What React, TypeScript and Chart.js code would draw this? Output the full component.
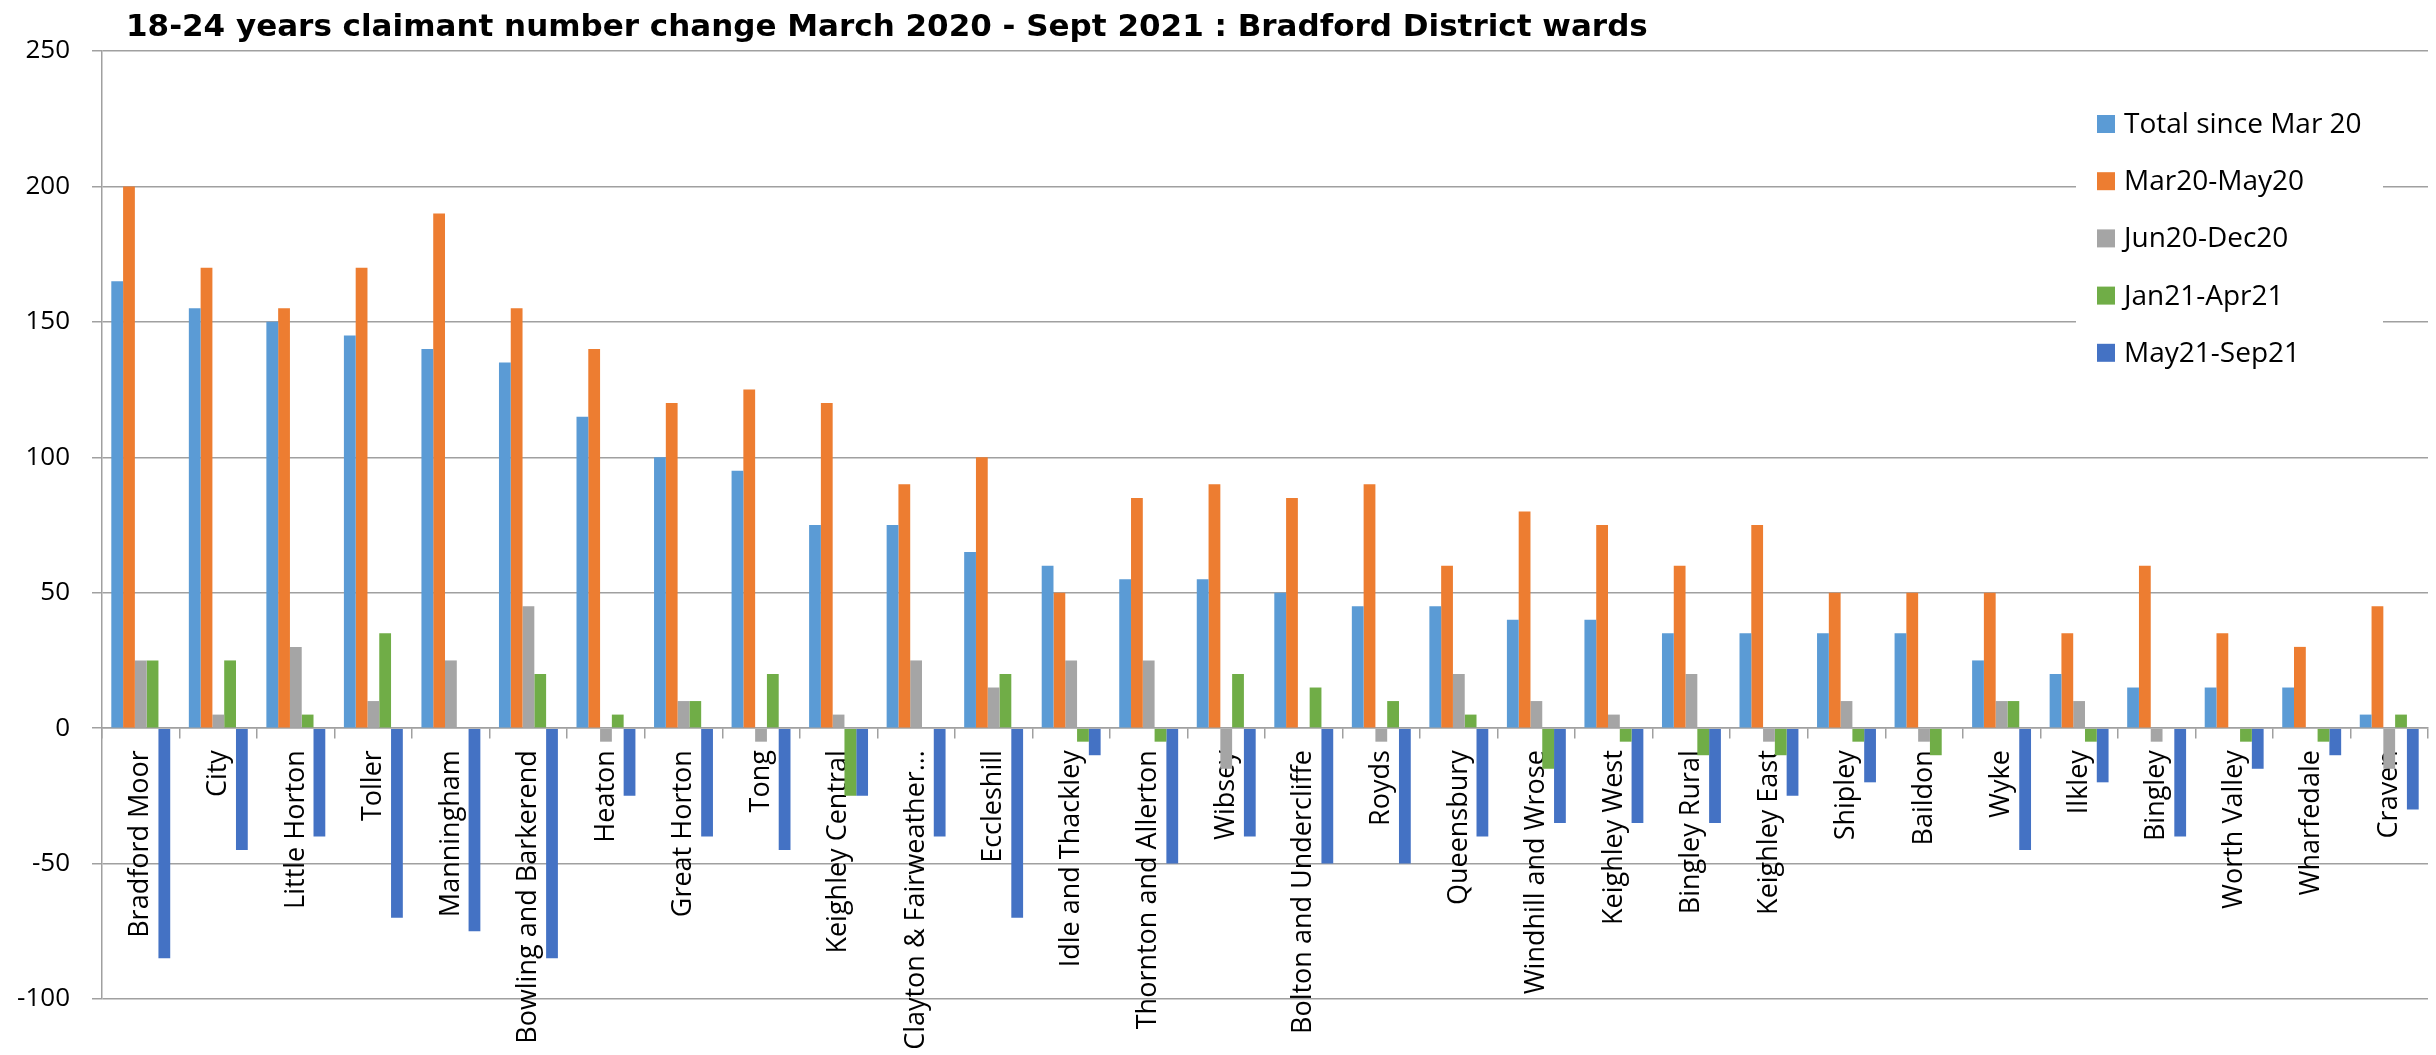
import React, { useEffect, useRef } from 'react';
import { Chart, registerables } from 'chart.js';

Chart.register(...registerables);

const wards = [
  'Bradford Moor', 'City', 'Little Horton', 'Toller', 'Manningham', 'Bowling and Barkerend',
  'Heaton', 'Great Horton', 'Tong', 'Keighley Central', 'Clayton & Fairweather…', 'Eccleshill',
  'Idle and Thackley', 'Thornton and Allerton', 'Wibsey', 'Bolton and Undercliffe', 'Royds',
  'Queensbury', 'Windhill and Wrose', 'Keighley West', 'Bingley Rural', 'Keighley East',
  'Shipley', 'Baildon', 'Wyke', 'Ilkley', 'Bingley', 'Worth Valley', 'Wharfedale', 'Craven',
];

const totalSinceMar20 = [165, 155, 150, 145, 140, 135, 115, 100, 95, 75, 75, 65, 60, 55, 55, 50, 45, 45, 40, 40, 35, 35, 35, 35, 25, 20, 15, 15, 15, 5];
const mar20May20 = [200, 170, 155, 170, 190, 155, 140, 120, 125, 120, 90, 100, 50, 85, 90, 85, 90, 60, 80, 75, 60, 75, 50, 50, 50, 35, 60, 35, 30, 45];
const jun20Dec20 = [25, 5, 30, 10, 25, 45, -5, 10, -5, 5, 25, 15, 25, 25, -15, 0, -5, 20, 10, 5, 20, -5, 10, -5, 10, 10, -5, 0, 0, -15];
const jan21Apr21 = [25, 25, 5, 35, 0, 20, 5, 10, 20, -25, 0, 20, -5, -5, 20, 15, 10, 5, -15, -5, -10, -10, -5, -10, 10, -5, 0, -5, -5, 5];
const may21Sep21 = [-85, -45, -40, -70, -75, -85, -25, -40, -45, -25, -40, -70, -10, -50, -40, -50, -50, -40, -35, -35, -35, -25, -20, 0, -45, -20, -40, -15, -10, -30];

const seriesLabels = ['Total since Mar 20', 'Mar20-May20', 'Jun20-Dec20', 'Jan21-Apr21', 'May21-Sep21'];
const seriesColors = ['#5b9bd5', '#ed7d31', '#a5a5a5', '#70ad47', '#4472c4'];
const yMin = -100;
const yMax = 250;
const yStep = 50;
const titleText = '18-24 years claimant number change March 2020 - Sept 2021 : Bradford District wards';

const titlePlugin = {
  id: 'leftTitle',
  afterDraw(chart: any) {
    const ctx = chart.ctx;
    ctx.save();
    ctx.font = 'bold 31px "DejaVu Sans"';
    ctx.fillStyle = '#000';
    ctx.textAlign = 'left';
    ctx.textBaseline = 'alphabetic';
    ctx.fillText(titleText, 126, 36);
    ctx.restore();
  },
};

const legendPlugin = {
  id: 'boxLegend',
  afterDatasetsDraw(chart: any) {
    const ctx = chart.ctx;
    ctx.save();
    ctx.fillStyle = '#ffffff';
    ctx.fillRect(2076, 92, 307, 292);
    ctx.font = '28px "Open Sans"';
    ctx.textAlign = 'left';
    ctx.textBaseline = 'middle';
    chart.data.datasets.forEach((ds: any, i: number) => {
      const cy = 124 + i * 57.2;
      ctx.fillStyle = ds.backgroundColor;
      ctx.fillRect(2097, cy - 9, 18, 18);
      ctx.fillStyle = '#000';
      ctx.fillText(ds.label, 2124, cy + 1);
    });
    ctx.restore();
  },
};

export default function App() {
  const ref = useRef<HTMLCanvasElement | null>(null);

  useEffect(() => {
    if (!ref.current) return;
    const series = [totalSinceMar20, mar20May20, jun20Dec20, jan21Apr21, may21Sep21];
    const chart = new Chart(ref.current, {
      type: 'bar',
      data: {
        labels: wards,
        datasets: series.map((d, i) => ({
          label: seriesLabels[i],
          data: d,
          backgroundColor: seriesColors[i],
          borderWidth: 0,
          categoryPercentage: 0.76,
          barPercentage: 1,
        })),
      },
      options: {
        animation: false,
        responsive: false,
        maintainAspectRatio: false,
        devicePixelRatio: 1,
        layout: { padding: { top: 51, left: 14, right: 8, bottom: 56 } },
        plugins: {
          legend: { display: false },
          title: { display: false },
          tooltip: { enabled: false },
        },
        scales: {
          x: {
            position: { y: 0 } as any,
            grid: {
              display: true,
              offset: true,
              drawOnChartArea: false,
              drawTicks: true,
              tickLength: 10,
              color: '#a0a0a0',
              lineWidth: 1.5,
            },
            border: { display: true, color: '#a0a0a0', width: 1.5 },
            ticks: {
              autoSkip: false,
              minRotation: 90,
              maxRotation: 90,
              padding: 12,
              color: '#000',
              font: { family: '"Open Sans"', size: 27 },
            },
          },
          y: {
            min: yMin,
            max: yMax,
            afterFit: (scale: any) => {
              scale.width = 88;
            },
            grid: {
              color: '#a0a0a0',
              lineWidth: 1.5,
              drawTicks: true,
              tickLength: 10,
            },
            border: { display: true, color: '#a0a0a0', width: 1.5 },
            ticks: {
              stepSize: yStep,
              padding: 22,
              color: '#000',
              font: { family: '"Open Sans"', size: 26 },
            },
          },
        },
      },
      plugins: [titlePlugin, legendPlugin],
    });
    return () => chart.destroy();
  }, []);

  return (
    <div style={{ position: 'fixed', left: 0, top: 0, width: 2436, height: 1055, background: '#fff' }}>
      <canvas ref={ref} width={2436} height={1055} style={{ width: 2436, height: 1055 }} />
    </div>
  );
}
